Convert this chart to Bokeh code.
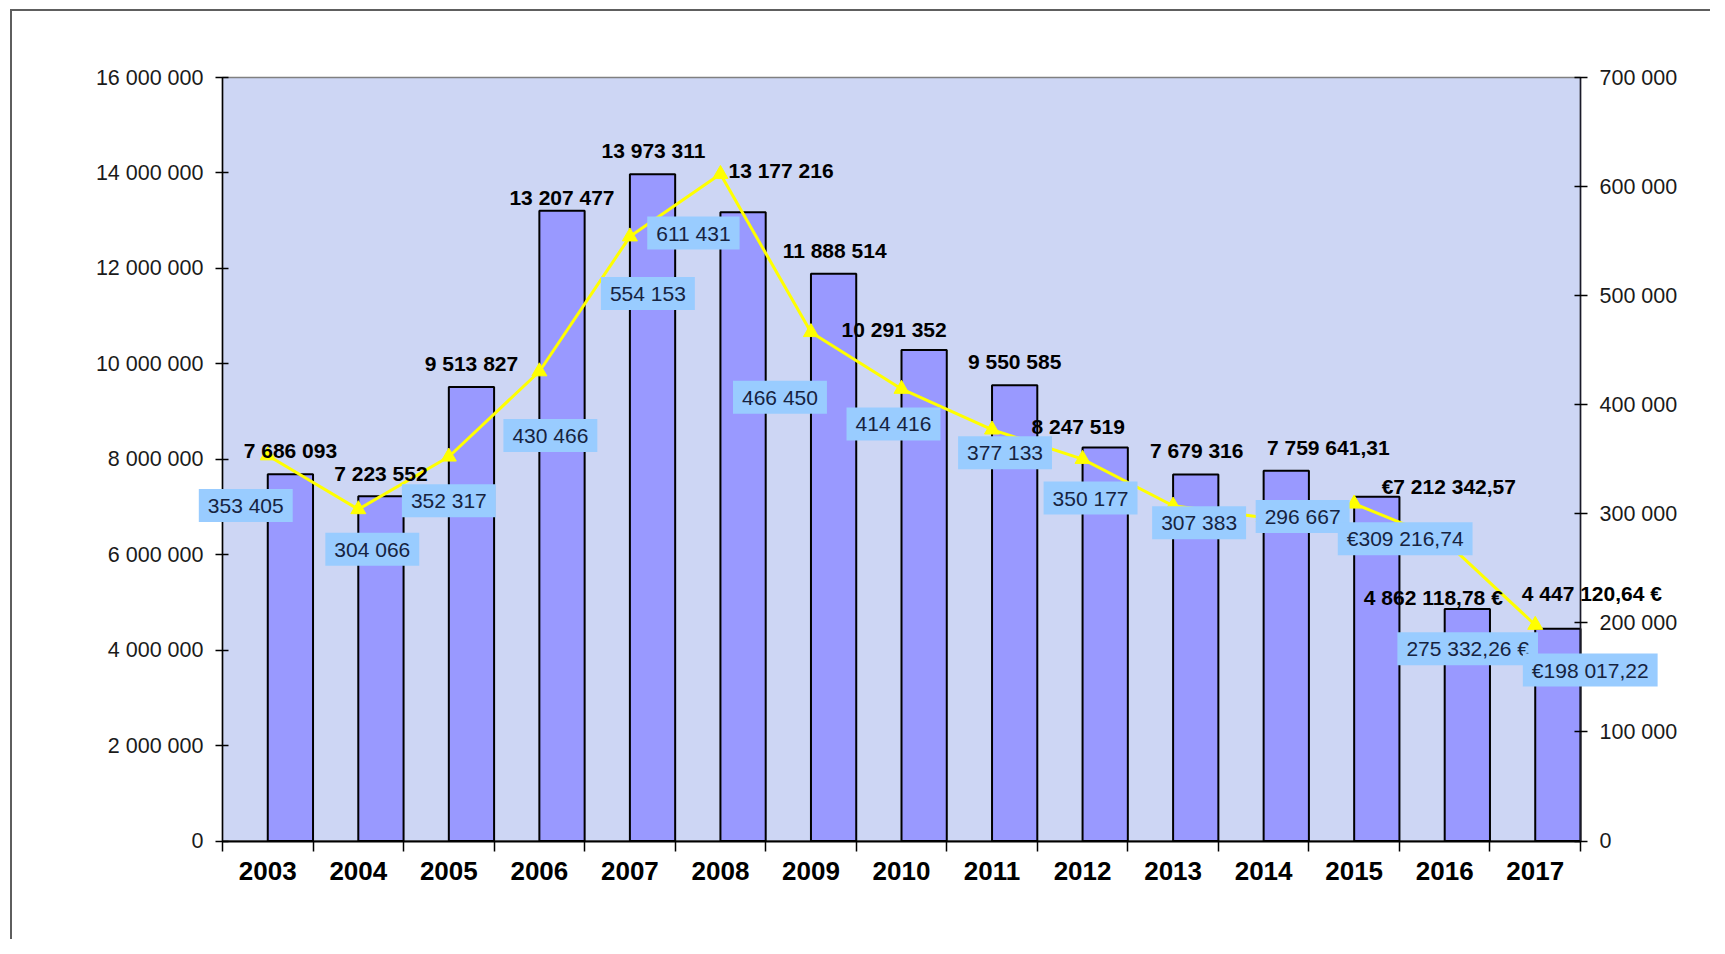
from bokeh.plotting import figure
from bokeh.models import Range1d, LinearAxis, FixedTicker, ColumnDataSource, LabelSet, Label
from bokeh.embed import file_html
from bokeh.resources import INLINE
from bokeh.core.properties import value

# ---------------- data ----------------
years = ["2003", "2004", "2005", "2006", "2007", "2008", "2009", "2010",
         "2011", "2012", "2013", "2014", "2015", "2016", "2017"]
bar_values = [7686093, 7223552, 9513827, 13207477, 13973311, 13177216, 11888514,
              10291352, 9550585, 8247519, 7679316, 7759641.31, 7212342.57,
              4862118.78, 4447120.64]
line_values = [353405, 304066, 352317, 430466, 554153, 611431, 466450, 414416,
               377133, 350177, 307383, 296667, 309216.74, 275332.26, 198017.22]
bar_labels = ["7 686 093", "7 223 552", "9 513 827", "13 207 477", "13 973 311",
              "13 177 216", "11 888 514", "10 291 352", "9 550 585", "8 247 519",
              "7 679 316", "7 759 641,31", "€7 212 342,57", "4 862 118,78 €",
              "4 447 120,64 €"]
line_labels = ["353 405", "304 066", "352 317", "430 466", "554 153", "611 431",
               "466 450", "414 416", "377 133", "350 177", "307 383", "296 667",
               "€309 216,74", "275 332,26 €", "€198 017,22"]
left_ticks = [0, 2000000, 4000000, 6000000, 8000000, 10000000, 12000000, 14000000, 16000000]
left_tick_labels = ["0", "2 000 000", "4 000 000", "6 000 000", "8 000 000",
                    "10 000 000", "12 000 000", "14 000 000", "16 000 000"]
right_ticks = [0, 100000, 200000, 300000, 400000, 500000, 600000, 700000]
right_tick_labels = ["0", "100 000", "200 000", "300 000", "400 000", "500 000",
                     "600 000", "700 000"]
left_max = 16000000
right_max = 700000

# label placement offsets (screen px, right / down positive)
bar_label_dx = [0, 0, 0, 0, 1, 38, 1, -30, 0, -27, 1, 42, 72, -34, 34]
bar_label_dy = [-24, -23, -24, -13, -24, -42, -23, -20, -24, -21, -24, -23, -10, -11, -35]
line_label_dx = [-22, 14, 0, 11, 18, -27, -31, -8, 13, 8, 26, 39, 51, 23, 55]
line_label_dy = [50, 40, 44, 64, 57, 59, 65, 35, 23, 39, 17, -1, 35, 108, 45]

# ---------------- layout (pixels) ----------------
FIG_W, FIG_H = 1700, 930
PLOT_LEFT, PLOT_W = 210, 1358
PLOT_TOP, PLOT_H = 66, 763.5

n = len(years)
centers = [i + 0.5 for i in range(n)]
bar_x = [i + 0.75 for i in range(n)]

ux = n / PLOT_W
x_start = -PLOT_LEFT * ux
x_end = n + (FIG_W - PLOT_LEFT - PLOT_W) * ux
uy = left_max / PLOT_H
y_start = -(FIG_H - PLOT_TOP - PLOT_H) * uy
y_end = left_max + PLOT_TOP * uy
k = right_max / left_max

FONT = "Liberation Sans"

p = figure(width=FIG_W, height=FIG_H,
           x_range=Range1d(x_start, x_end), y_range=Range1d(y_start, y_end),
           x_axis_location=None, y_axis_location=None,
           output_backend="svg", toolbar_location=None,
           min_border=0, min_border_left=0, min_border_right=0,
           min_border_top=0, min_border_bottom=0,
           background_fill_color="white", border_fill_color="white",
           outline_line_color=None,
           styles={"margin-left": "10px", "margin-top": "9px",
                   "border-left": "2px solid #5e5e5e", "border-top": "2px solid #5e5e5e"})
p.extra_y_ranges = {"right": Range1d(y_start * k, y_end * k)}
p.grid.visible = False

# plot area background
p.quad(left=[0], right=[n], bottom=[0], top=[left_max],
       fill_color="#cdd6f4", line_color="#808080", line_width=1.5)

# x axis: labels at category centres, tick marks at category boundaries
xa = LinearAxis(fixed_location=0, bounds=(0, n),
                ticker=FixedTicker(ticks=centers, minor_ticks=list(range(n + 1))))
xa.major_label_overrides = {c: y for c, y in zip(centers, years)}
xa.major_tick_in = 0
xa.major_tick_out = 0
xa.minor_tick_in = 0
xa.minor_tick_out = 10
xa.minor_tick_line_color = "black"
xa.minor_tick_line_width = 1.5
xa.axis_line_color = "black"
xa.axis_line_width = 2
xa.major_label_standoff = 11
xa.major_label_text_font = FONT
xa.major_label_text_font_size = "26px"
xa.major_label_text_font_style = "bold"
xa.major_label_text_color = "black"
p.add_layout(xa, "below")

ya = LinearAxis(fixed_location=0, bounds=(0, left_max), ticker=FixedTicker(ticks=left_ticks))
ya.major_label_overrides = {t: s for t, s in zip(left_ticks, left_tick_labels)}
ya.major_tick_in = 6
ya.major_tick_out = 7
ya.minor_tick_in = 0
ya.minor_tick_out = 0
ya.major_tick_line_color = "black"
ya.major_tick_line_width = 1.5
ya.axis_line_color = "black"
ya.axis_line_width = 1.5
ya.major_label_standoff = 12
ya.major_label_text_font = FONT
ya.major_label_text_font_size = "21.5px"
ya.major_label_text_color = "#1a1a1a"
p.add_layout(ya, "left")

ra = LinearAxis(y_range_name="right", fixed_location=n, bounds=(0, right_max),
                ticker=FixedTicker(ticks=right_ticks))
ra.major_label_overrides = {t: s for t, s in zip(right_ticks, right_tick_labels)}
ra.major_tick_in = 6
ra.major_tick_out = 7
ra.minor_tick_in = 0
ra.minor_tick_out = 0
ra.major_tick_line_color = "black"
ra.major_tick_line_width = 1.5
ra.axis_line_color = "#1a1a2a"
ra.axis_line_width = 1.5
ra.major_label_standoff = 12
ra.major_label_text_font = FONT
ra.major_label_text_font_size = "21.5px"
ra.major_label_text_color = "#1a1a1a"
p.add_layout(ra, "right")

# bars
p.vbar(x=bar_x, top=bar_values, bottom=0, width=0.5,
       fill_color="#9999ff", line_color="black", line_width=2)

# line with triangle markers
p.line(centers, line_values, y_range_name="right", line_color="#ffff00", line_width=3)
p.scatter(centers, line_values, y_range_name="right", marker="triangle", size=15,
          fill_color="#ffff00", line_color="#ffff00")

# labels of the line (blue boxes)
def make_box_label(**kw):
    for pad in (dict(left=9, right=9, top=5, bottom=5), (9, 5)):
        try:
            return Label(padding=pad, **kw)
        except Exception:
            pass
    kw["text"] = "  " + kw["text"] + "  "
    return Label(**kw)

for xi, yi, ti, dxi, dyi in zip(centers, line_values, line_labels, line_label_dx, line_label_dy):
    p.add_layout(make_box_label(x=xi, y=yi, text=ti, y_range_name="right",
                                x_offset=dxi, y_offset=-dyi,
                                text_align="center", text_baseline="middle",
                                text_font=FONT, text_font_size="21px", text_color="#16233f",
                                background_fill_color="#99ccff"))

# labels of the bars
bar_src = ColumnDataSource(dict(x=bar_x, y=bar_values, t=bar_labels,
                                dx=bar_label_dx, dy=[-d for d in bar_label_dy]))
p.add_layout(LabelSet(x="x", y="y", text="t", source=bar_src,
                      x_offset="dx", y_offset="dy",
                      text_align="center", text_baseline="middle",
                      text_font=value(FONT), text_font_size="21px",
                      text_font_style="bold", text_color="black"))

open("out.html", "w").write(file_html(p, INLINE))
